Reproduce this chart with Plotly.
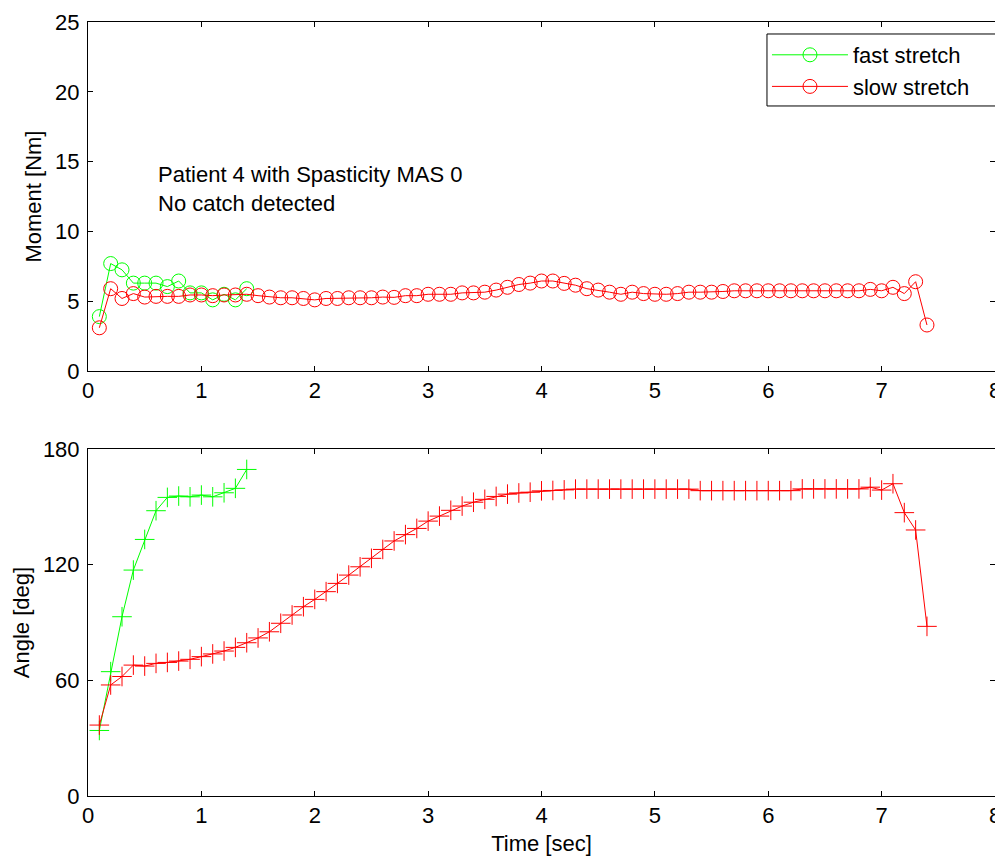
import plotly.graph_objects as go
from plotly.subplots import make_subplots

# ---- data ----
fast_time = [round(0.1 * i, 1) for i in range(1, 15)]
slow_time = [round(0.1 * i, 1) for i in range(1, 75)]

fast_moment = [3.9, 7.7, 7.25, 6.3, 6.3, 6.3, 6.05, 6.45, 5.6, 5.6, 5.1, 5.5, 5.1, 5.9]
slow_moment = [3.1, 5.9, 5.2, 5.55, 5.3, 5.35, 5.35, 5.35, 5.45, 5.45,
               5.4, 5.45, 5.45, 5.5, 5.4, 5.3, 5.25, 5.25, 5.2, 5.1,
               5.2, 5.2, 5.25, 5.25, 5.25, 5.3, 5.28, 5.4, 5.4, 5.5,
               5.5, 5.5, 5.6, 5.6, 5.65, 5.8, 6.0, 6.2, 6.3, 6.45,
               6.45, 6.28, 6.15, 5.9, 5.8, 5.65, 5.5, 5.65, 5.55, 5.5,
               5.5, 5.55, 5.65, 5.65, 5.65, 5.7, 5.75, 5.75, 5.75, 5.75,
               5.75, 5.75, 5.75, 5.75, 5.75, 5.75, 5.75, 5.75, 5.85, 5.75,
               6.0, 5.55, 6.4, 3.3]

fast_angle = [34, 64.5, 93, 117.2, 133.1, 148, 154.9, 155.6, 155.2, 156.1,
              155.2, 157.3, 159.6, 169.4]
slow_angle = [36.8, 57.6, 62, 67.9, 67.4, 68.8, 69.3, 70.0, 70.9, 72.3,
              73.7, 75.2, 77.1, 79.5, 82, 85.2, 89.6, 93.9, 98.2, 102,
              106, 110.3, 114.6, 118.9, 123.3, 127.9, 132.3, 135.6, 138.8, 142.6,
              145.2, 148.2, 150.4, 152.4, 153.9, 155.4, 156.6, 157.2, 157.6, 158.3,
              158.5, 158.8,
              159.2, 159.2, 159.2, 159.2, 159.2, 159.2, 159.2, 159.2, 159.2, 159.2, 159.2,
              158.4, 158.4, 158.4, 158.4, 158.4, 158.4, 158.4, 158.4, 158.4,
              159.3, 159.3, 159.3, 159.3, 159.3, 159.3,
              160.2, 158.7, 162, 147, 138, 88]

series_names = ["fast stretch", "slow stretch"]
colors = ["#00FF00", "#FF0000"]

xticks = [0, 1, 2, 3, 4, 5, 6, 7, 8]
moment_ticks = [0, 5, 10, 15, 20, 25]
angle_ticks = [0, 60, 120, 180]

annotation_lines = ["Patient 4 with Spasticity MAS 0", "No catch detected"]
annotation_y = [14.1, 12.0]
annotation_x = 0.6

FONT = "Liberation Sans, Arial, sans-serif"
FS = 22

fig = make_subplots(rows=2, cols=1, shared_xaxes=False, vertical_spacing=0.1)

for t, m, name, c in [(fast_time, fast_moment, series_names[0], colors[0]),
                      (slow_time, slow_moment, series_names[1], colors[1])]:
    fig.add_trace(go.Scatter(x=t, y=m, mode="lines+markers", name=name,
                             line=dict(color=c, width=1),
                             marker=dict(symbol="circle-open", size=14, color=c,
                                         line=dict(color=c, width=1))),
                  row=1, col=1)

for t, a, name, c in [(fast_time, fast_angle, series_names[0], colors[0]),
                      (slow_time, slow_angle, series_names[1], colors[1])]:
    fig.add_trace(go.Scatter(x=t, y=a, mode="lines+markers", name=name,
                             showlegend=False,
                             line=dict(color=c, width=1),
                             marker=dict(symbol="cross-thin", size=14, color=c,
                                         line=dict(color=c, width=1))),
                  row=2, col=1)

axis_common = dict(showline=True, linecolor="black", linewidth=1, mirror="ticks",
                   ticks="inside", ticklen=5, tickcolor="black", showgrid=False,
                   zeroline=False, automargin=False,
                   tickfont=dict(family=FONT, size=FS, color="black"))

fig.update_xaxes(**axis_common, range=[0, 8], tickvals=xticks)
fig.update_yaxes(**axis_common, ticklabelstandoff=3)

fig.update_layout(
    width=995, height=849,
    margin=dict(l=80, r=8, t=14, b=61),
    paper_bgcolor="white", plot_bgcolor="white",
    font=dict(family=FONT, size=FS, color="black"),
    xaxis=dict(domain=[0, 1], anchor="y"),
    yaxis=dict(domain=[0.549, 1.0], range=[0, 25], tickvals=moment_ticks,
               title=dict(text="Moment [Nm]", font=dict(family=FONT, size=FS), standoff=7)),
    xaxis2=dict(domain=[0, 1], anchor="y2",
                title=dict(text="Time [sec]", font=dict(family=FONT, size=FS), standoff=8)),
    yaxis2=dict(domain=[0, 0.4483], range=[0, 180], tickvals=angle_ticks,
                title=dict(text="Angle [deg]", font=dict(family=FONT, size=FS), standoff=7)),
    legend=dict(x=0.7486, y=0.9845, xanchor="left", yanchor="top",
                bgcolor="rgba(0,0,0,0)", borderwidth=0,
                font=dict(family=FONT, size=FS, color="black"),
                itemwidth=76, tracegroupgap=0),
    showlegend=True,
)

# legend frame (MATLAB-style box, slightly wider than plotly's auto legend)
fig.add_shape(type="rect", xref="paper", yref="paper",
              x0=0.7486, x1=1.0011, y0=0.8915, y1=0.9845,
              line=dict(color="black", width=1), fillcolor="white", layer="above")

for text, yv in zip(annotation_lines, annotation_y):
    fig.add_annotation(x=annotation_x, y=yv, xref="x", yref="y", text=text,
                       showarrow=False, xanchor="left", yanchor="middle",
                       font=dict(family=FONT, size=FS, color="black"))

fig.write_html("out.html")
